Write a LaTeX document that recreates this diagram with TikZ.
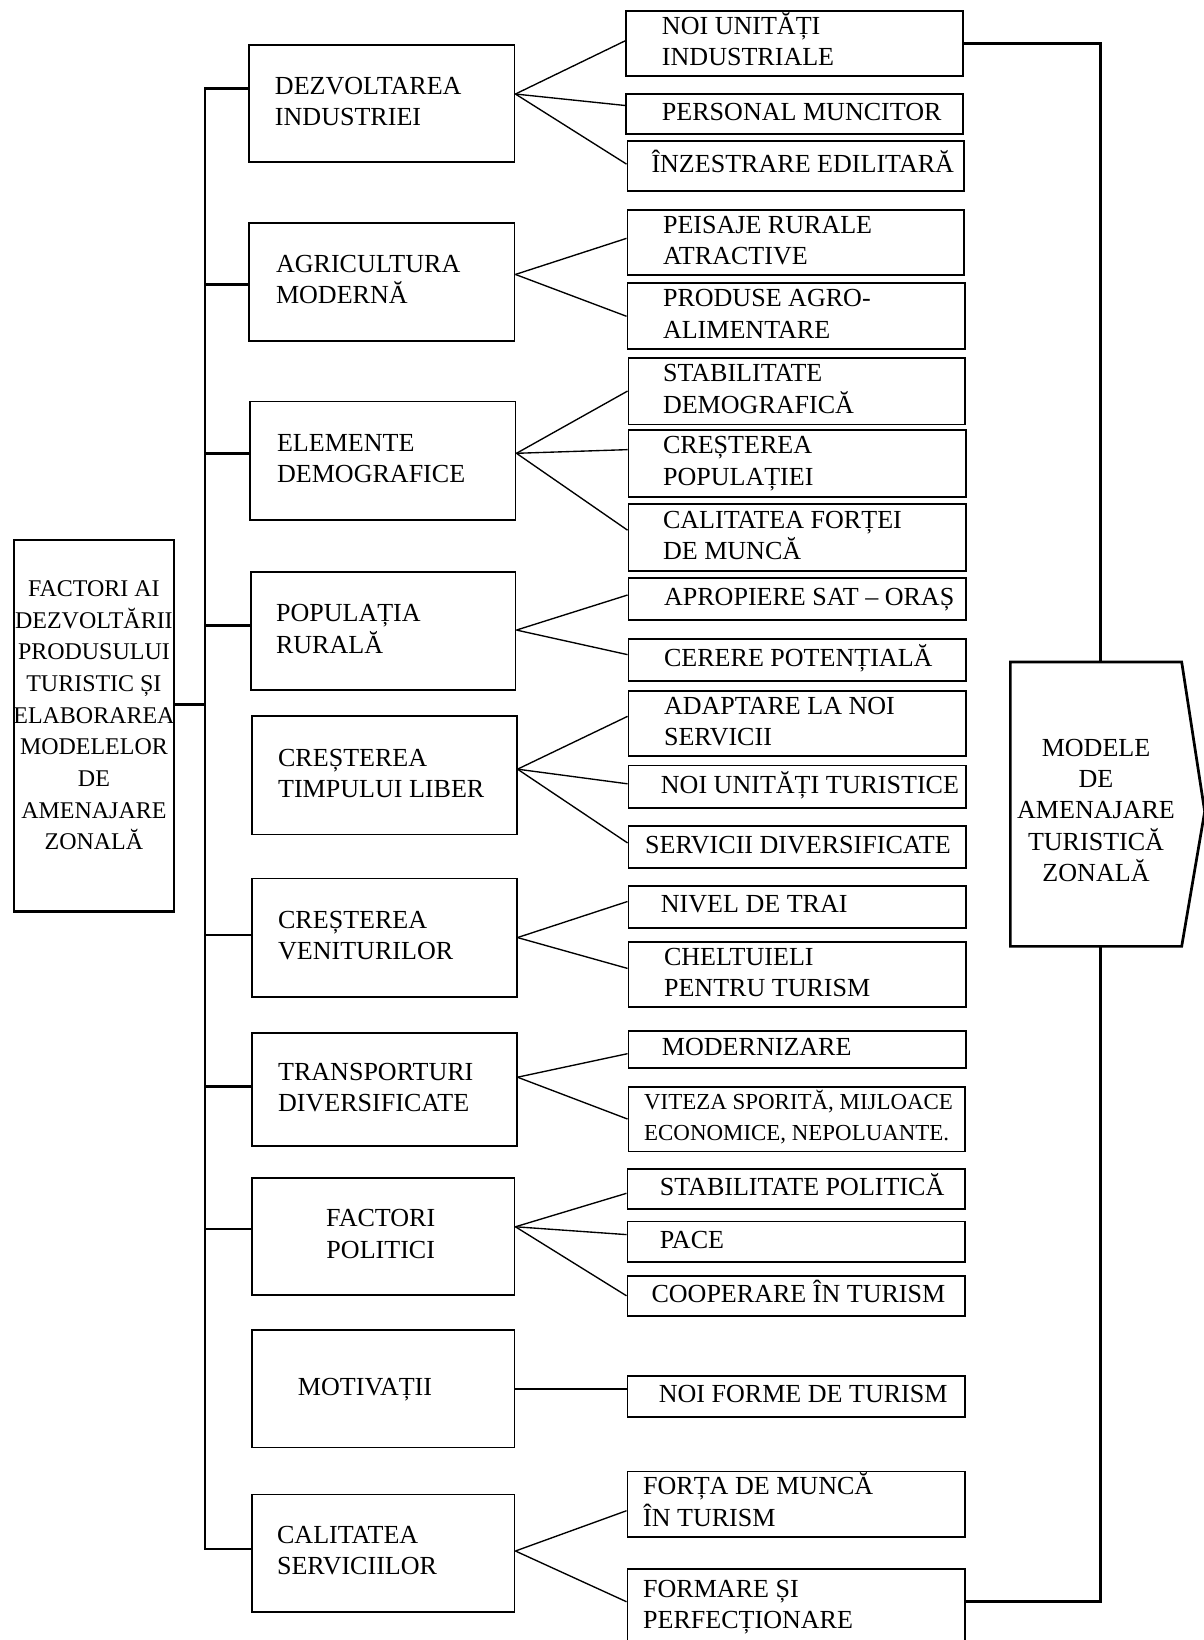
\documentclass[tikz,border=0pt]{standalone}
\usepackage{fontspec}
\setmainfont{Liberation Serif}
\newcommand\lbx[3]{\makebox[#1bp][l]{\hspace*{#2bp}\begin{tabular}{@{}l@{}}#3\end{tabular}}}
\newcommand\cbx[2]{\makebox[#1bp][c]{\begin{tabular}{@{}c@{}}#2\end{tabular}}}
\begin{document}
\begin{tikzpicture}[x=1bp,y=-1bp,
  box/.style={draw, line width=1.8bp, anchor=north west, inner sep=0pt, font=\fontsize{25}{30}\selectfont},
  fan/.style={line width=1.3bp},
  thick line/.style={line width=2.6bp},
  outline/.style={line width=2.6bp, line join=miter}]
\useasboundingbox (0,0) rectangle (1151,1568);

% left box
\node[box, line width=2.6bp, font=\fontsize{23}{30.4}\selectfont, minimum width=153bp, minimum height=355bp] (L) at (12,515)
  {\cbx{153}{FACTORI AI\\DEZVOLTĂRII\\PRODUSULUI\\TURISTIC ȘI\\ELABORAREA\\MODELELOR\\DE\\AMENAJARE\\ZONALĂ\rule[-26bp]{0pt}{0pt}}};

% middle boxes
\node[box, minimum width=254bp, minimum height=112bp] (m1) at (237,42) {\lbx{254}{25}{DEZVOLTAREA\\INDUSTRIEI}};
\node[box, minimum width=254bp, minimum height=113bp] (m2) at (237,212) {\lbx{254}{26}{AGRICULTURA\\MODERNĂ}};
\node[box, minimum width=254bp, minimum height=113bp] (m3) at (238,383) {\lbx{254}{26}{ELEMENTE\\DEMOGRAFICE}};
\node[box, minimum width=253bp, minimum height=113bp] (m4) at (239,546) {\lbx{253}{24}{POPULAȚIA\\RURALĂ}};
\node[box, minimum width=253bp, minimum height=113bp] (m5) at (240,684) {\lbx{253}{25}{CREȘTEREA\\TIMPULUI LIBER}};
\node[box, minimum width=253bp, minimum height=113bp] (m6) at (240,839) {\lbx{253}{25}{CREȘTEREA\\VENITURILOR}};
\node[box, minimum width=253bp, minimum height=108bp] (m7) at (240,987) {\lbx{253}{25}{TRANSPORTURI\\DIVERSIFICATE}};
\node[box, minimum width=251bp, minimum height=112bp] (m8) at (240,1125) {\makebox[251bp][l]{\hspace*{71bp}\begin{tabular}{@{}c@{}}FACTORI\\POLITICI\end{tabular}}};
\node[box, minimum width=251bp, minimum height=112bp] (m9) at (240,1271) {\lbx{251}{44}{MOTIVAȚII}};
\node[box, minimum width=251bp, minimum height=112bp] (m10) at (240,1428) {\lbx{251}{24}{CALITATEA\\SERVICIILOR}};

% right boxes
\node[box, minimum width=322bp, minimum height=62bp] (r1a) at (598,10) {\lbx{322}{34}{NOI UNITĂȚI\\INDUSTRIALE}};
\node[box, minimum width=322bp, minimum height=38bp] (r1b) at (598,89) {\lbx{322}{34}{PERSONAL MUNCITOR}};
\node[box, minimum width=322bp, minimum height=48bp] (r1c) at (599,134) {\lbx{322}{23}{ÎNZESTRARE EDILITARĂ}};
\node[box, minimum width=322bp, minimum height=62bp] (r2a) at (599,200) {\lbx{322}{34}{PEISAJE RURALE\\ATRACTIVE}};
\node[box, minimum width=323bp, minimum height=63bp] (r2b) at (599,270) {\lbx{323}{34}{PRODUSE AGRO-\\ALIMENTARE}};
\node[box, minimum width=322bp, minimum height=64bp] (r3a) at (600,341) {\lbx{322}{33}{STABILITATE\\DEMOGRAFICĂ}};
\node[box, minimum width=323bp, minimum height=64bp] (r3b) at (600,410) {\lbx{323}{33}{CREȘTEREA\\POPULAȚIEI}};
\node[box, minimum width=323bp, minimum height=64bp] (r3c) at (600,481) {\lbx{323}{33}{CALITATEA FORȚEI\\DE MUNCĂ}};
\node[box, minimum width=323bp, minimum height=40bp] (r4a) at (600,552) {\lbx{323}{34}{APROPIERE SAT – ORAȘ}};
\node[box, minimum width=323bp, minimum height=40bp] (r4b) at (600,610) {\lbx{323}{34}{CERERE POTENȚIALĂ}};
\node[box, minimum width=323bp, minimum height=62bp] (r5a) at (600,660) {\lbx{323}{34}{ADAPTARE LA NOI\\SERVICII}};
\node[box, minimum width=323bp, minimum height=41bp] (r5b) at (600,731) {\lbx{323}{31}{NOI UNITĂȚI TURISTICE}};
\node[box, minimum width=323bp, minimum height=40bp] (r5c) at (600,789) {\lbx{323}{16}{SERVICII DIVERSIFICATE}};
\node[box, minimum width=323bp, minimum height=40bp] (r6a) at (600,846) {\lbx{323}{31}{NIVEL DE TRAI}};
\node[box, minimum width=323bp, minimum height=62bp] (r6b) at (600,900) {\lbx{323}{34}{CHELTUIELI\\PENTRU TURISM}};
\node[box, minimum width=323bp, minimum height=35bp] (r7a) at (600,985) {\lbx{323}{32}{MODERNIZARE}};
\node[box, font=\fontsize{22}{30}\selectfont, minimum width=322bp, minimum height=62bp] (r7b) at (600,1038) {\lbx{322}{15}{VITEZA SPORITĂ, MIJLOACE\\ECONOMICE, NEPOLUANTE.}};
\node[box, minimum width=323bp, minimum height=38bp] (r8a) at (599,1117) {\lbx{323}{31}{STABILITATE POLITICĂ}};
\node[box, minimum width=323bp, minimum height=39bp] (r8b) at (599,1167) {\lbx{323}{31}{PACE}};
\node[box, minimum width=323bp, minimum height=38bp] (r8c) at (599,1219) {\lbx{323}{23}{COOPERARE ÎN TURISM}};
\node[box, minimum width=323bp, minimum height=39bp] (r9a) at (599,1315) {\lbx{323}{30}{NOI FORME DE TURISM}};
\node[box, minimum width=323bp, minimum height=63bp] (r10a) at (599,1406) {\lbx{323}{15}{FORȚA DE MUNCĂ\\ÎN TURISM}};
\node[box, minimum width=323bp, minimum height=73bp] (r10b) at (599,1499) {\lbx{323}{15}{FORMARE ȘI\\PERFECȚIONARE}};

% output box
\node[box, draw=none, minimum width=162bp, minimum height=270bp] (out) at (966,633)
  {\cbx{162}{\rule{0pt}{37bp}MODELE\\DE\\AMENAJARE\\TURISTICĂ\\ZONALĂ}};
\draw[outline] (out.north west) -- (out.north east) -- ([xshift=22bp,yshift=-7bp]out.east)
  -- (out.south east) -- (out.south west) -- cycle;

% trunk and branches
\coordinate (tr) at (196,0);
\coordinate (b1) at ([yshift=14bp]m1.west);
\coordinate (b2) at ([yshift=-2.5bp]m2.west);
\coordinate (b3) at ([yshift=6.5bp]m3.west);
\coordinate (b4) at ([yshift=5.5bp]m4.west);
\coordinate (b6) at ([yshift=2.5bp]m6.west);
\coordinate (b7) at ([yshift=3bp]m7.west);
\coordinate (b8) at ([yshift=7bp]m8.west);
\coordinate (b10) at ([yshift=4bp]m10.west);
\coordinate (c0) at ([yshift=20.5bp]L.east);
\draw[thick line, line cap=rect] (b1 -| tr) -- (b10 -| tr);
\foreach \b in {b1,b2,b3,b4,b6,b7,b8,b10} \draw[thick line] (\b -| tr) -- (\b);
\draw[thick line] (c0) -- (c0 -| tr);

% fans
\coordinate (o1) at ([yshift=9bp]m1.east);
\coordinate (o2) at ([yshift=7bp]m2.east);
\coordinate (o3) at ([yshift=7bp]m3.east);
\coordinate (o4) at ([yshift=1bp]m4.east);
\coordinate (o5) at ([yshift=6bp]m5.east);
\coordinate (o6) at (m6.east);
\coordinate (o7) at ([yshift=12bp]m7.east);
\coordinate (o8) at ([yshift=9bp]m8.east);
\coordinate (o10) at ([yshift=2bp]m10.east);
\draw[fan] (o1) -- ([yshift=3bp]r1a.west);
\draw[fan] (o1) -- ([yshift=8bp]r1b.west);
\draw[fan] (o1) -- ([yshift=2bp]r1c.west);
\draw[fan] (o2) -- ([yshift=4bp]r2a.west);
\draw[fan] (o2) -- (r2b.west);
\draw[fan] (o3) -- (r3a.west);
\draw[fan] (o3) -- ([yshift=13bp]r3b.west);
\draw[fan] (o3) -- ([yshift=7bp]r3c.west);
\draw[fan] (o4) -- ([yshift=4bp]r4a.west);
\draw[fan] (o4) -- ([yshift=5bp]r4b.west);
\draw[fan] (o5) -- ([yshift=7bp]r5a.west);
\draw[fan] (o5) -- ([yshift=3bp]r5b.west);
\draw[fan] (o5) -- ([yshift=4bp]r5c.west);
\draw[fan] (o6) -- ([yshift=5bp]r6a.west);
\draw[fan] (o6) -- ([yshift=6bp]r6b.west);
\draw[fan] (o7) -- ([yshift=-4bp]r7a.west);
\draw[fan] (o7) -- (r7b.west);
\draw[fan] (o8) -- ([yshift=-4bp]r8a.west);
\draw[fan] (o8) -- ([yshift=7bp]r8b.west);
\draw[fan] (o8) -- (r8c.west);
\draw[fan] (m9.east) -- (m9.east -| r9a.west);
\draw[fan] (o10) -- ([yshift=-6bp]r10a.west);
\draw[fan] (o10) -- ([yshift=5bp]r10b.west);

% right loop
\coordinate (lx) at (1052,0);
\draw[thick line] (r1a.east) -- (r1a.east -| lx) -- (out.north -| lx);
\draw[thick line] (out.south -| lx) -- ([yshift=5bp]r10b.east -| lx) -- ([yshift=5bp]r10b.east);
\end{tikzpicture}
\end{document}
